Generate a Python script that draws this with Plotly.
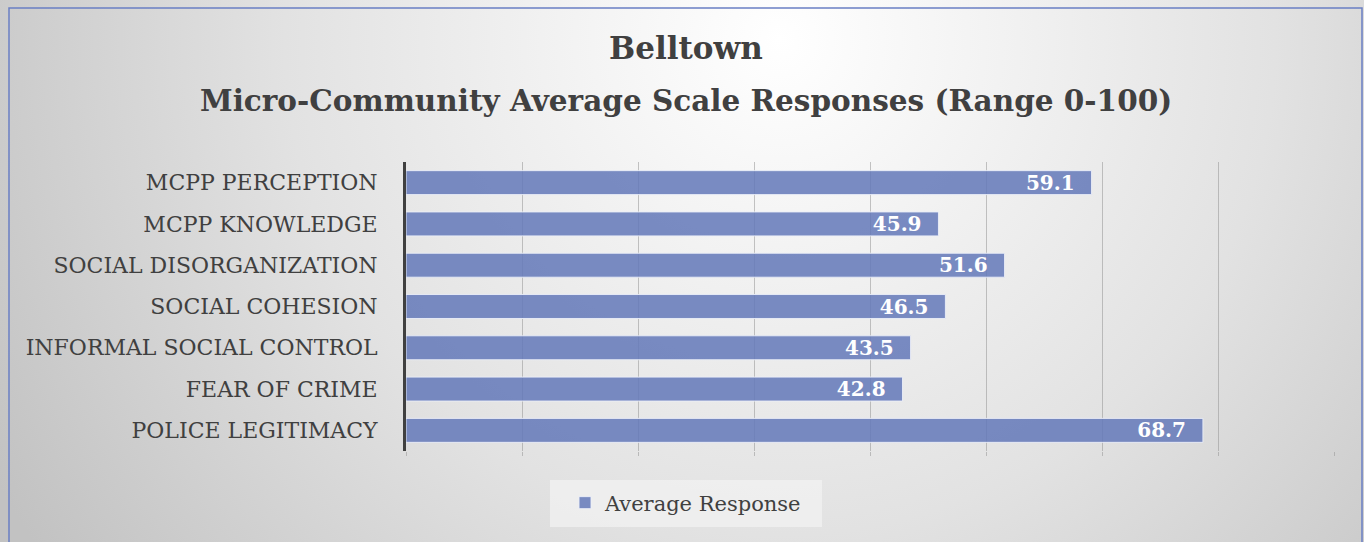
import base64
import plotly.graph_objects as go

categories = ["POLICE LEGITIMACY", "FEAR OF CRIME", "INFORMAL SOCIAL CONTROL",
              "SOCIAL COHESION", "SOCIAL DISORGANIZATION", "MCPP KNOWLEDGE",
              "MCPP PERCEPTION"]
values = [68.7, 42.8, 43.5, 46.5, 51.6, 45.9, 59.1]
series_name = "Average Response"
title_lines = ["Belltown", "Micro-Community Average Scale Responses (Range 0-100)"]

FONT = "DejaVu Serif"

svg = """<svg xmlns='http://www.w3.org/2000/svg' width='1364' height='542' preserveAspectRatio='none'>
<defs><radialGradient id='g' cx='780' cy='40' r='900' gradientUnits='userSpaceOnUse'>
<stop offset='0' stop-color='#ffffff'/><stop offset='0.55' stop-color='#e2e2e2'/>
<stop offset='1' stop-color='#c2c2c2'/></radialGradient></defs>
<rect width='1364' height='542' fill='url(#g)'/></svg>"""
bg_uri = "data:image/svg+xml;base64," + base64.b64encode(svg.encode()).decode()

fig = go.Figure()
fig.add_trace(go.Bar(
    x=values, y=categories, orientation="h", name=series_name,
    marker=dict(color="rgba(100,121,185,0.86)", line=dict(color="rgba(235,238,248,0.9)", width=1)),
    text=[f"{v:.1f}\u00a0\u00a0" for v in values], textposition="inside", insidetextanchor="end",
    textfont=dict(family=FONT, size=20, color="white", weight="bold"),
    constraintext="none", cliponaxis=False,
))

W, H = 1364, 542
L, R, T, B = 406, 30, 162, 91
pw, ph = W - L - R, H - T - B

def px2x(p):
    return (p - L) / pw

def py2y(p):
    return (H - B - p) / ph

fig.update_layout(
    width=W, height=H,
    margin=dict(l=L, r=R, t=T, b=B, pad=0),
    paper_bgcolor="#d8d8d8", plot_bgcolor="rgba(0,0,0,0)",
    bargap=0.42,
    showlegend=True,
    legend=dict(orientation="h", x=px2x(686), xanchor="center", y=py2y(503), yanchor="middle",
                bgcolor="rgba(0,0,0,0)", font=dict(family=FONT, size=21, color="#404040"),
                itemwidth=30, traceorder="normal"),
    font=dict(family=FONT, color="#404040"),
    images=[dict(source=bg_uri, xref="paper", yref="paper", x=px2x(0), y=py2y(0),
                 sizex=W / pw, sizey=H / ph, xanchor="left", yanchor="top",
                 sizing="stretch", layer="below")],
    xaxis=dict(range=[0, 80], dtick=10, showgrid=True, gridcolor="rgba(150,150,150,0.55)", gridwidth=1,
               showticklabels=False, zeroline=False, showline=False, ticks="outside",
               ticklen=4, tickcolor="rgba(150,150,150,0.55)", fixedrange=True),
    yaxis=dict(categoryorder="array", categoryarray=categories, showgrid=False,
               tickfont=dict(family=FONT, size=22, color="#404040"), ticks="", ticklabelstandoff=21,
               showline=True, linecolor="#404040", linewidth=3, zeroline=False, fixedrange=True),
)

fig.add_annotation(text="<b>" + title_lines[0] + "</b>", xref="paper", yref="paper",
                   x=px2x(686), y=py2y(48), xanchor="center", yanchor="middle", showarrow=False,
                   font=dict(family=FONT, size=31, color="#404040"))
fig.add_annotation(text="<b>" + title_lines[1] + "</b>", xref="paper", yref="paper",
                   x=px2x(686), y=py2y(100), xanchor="center", yanchor="middle", showarrow=False,
                   font=dict(family=FONT, size=29.5, color="#404040"))

# legend box
fig.add_shape(type="rect", xref="paper", yref="paper", x0=px2x(550), x1=px2x(822),
              y0=py2y(527), y1=py2y(480), line=dict(width=0),
              fillcolor="rgba(242,242,242,0.75)", layer="below")
# chart border
fig.add_shape(type="rect", xref="paper", yref="paper", x0=px2x(9), x1=px2x(1362),
              y0=py2y(600), y1=py2y(8), line=dict(color="#6a7fc4", width=1.5), layer="above")

fig.write_html("out.html", config={"displayModeBar": False},
               post_script="document.body.style.margin='0';document.body.style.padding='0';")
